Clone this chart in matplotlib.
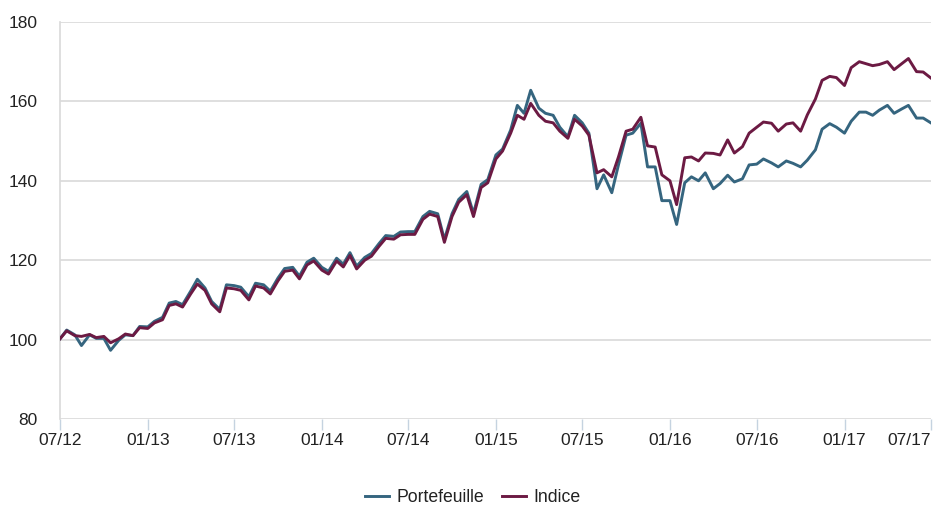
import numpy as np
import pandas as pd
import matplotlib
matplotlib.use('Agg')
import matplotlib.pyplot as plt
import matplotlib.dates as mdates

matplotlib.rcParams['font.family'] = 'Liberation Sans'

# semi-monthly points, 07/12 -> 07/17
dates = pd.date_range('2012-07-01', '2017-07-01', freq='SMS')

indice = [100.2, 102.2, 101.0, 100.8, 101.3, 100.5, 100.8, 99.2, 100.2, 101.4,
          101.0, 103.0, 102.8, 104.2, 105.0, 108.6, 109.0, 108.2, 111.5, 114.0,
          112.4, 109.0, 107.0, 113.0, 112.8, 112.4, 110.0, 113.5, 113.0, 111.5,
          114.8, 117.2, 117.5, 115.3, 118.8, 119.8, 117.5, 116.5, 119.8, 118.3,
          121.2, 117.8, 120.0, 121.0, 123.5, 125.5, 125.3, 126.4, 126.5, 126.5,
          130.3, 131.6, 131.0, 124.5, 131.0, 134.6, 136.5, 131.0, 138.3, 139.5,
          145.5, 147.5, 152.0, 156.5, 155.5, 159.5, 156.5, 155.0, 154.6, 152.5,
          150.7, 155.5, 153.8, 151.5, 142.0, 142.8, 141.0, 146.0, 152.5, 153.0,
          156.0, 148.8, 148.5, 141.5, 140.0, 134.0, 145.8, 146.0, 145.0, 147.0,
          146.9, 146.5, 150.3, 147.0, 148.6, 152.0, 153.5, 154.8, 154.5, 152.5,
          154.3, 154.6, 152.5, 156.6, 160.6, 165.3, 166.3, 166.0, 164.0, 168.5,
          170.0, 169.5, 169.0, 169.3, 170.0, 168.0, 169.5, 170.8, 167.5, 167.4,
          165.9]

portefeuille = [100.2, 102.4, 101.2, 98.5, 101.2, 100.3, 100.3, 97.3, 99.8, 101.2,
                101.0, 103.3, 103.2, 104.6, 105.6, 109.2, 109.6, 108.8, 112.2, 115.2,
                113.0, 109.6, 107.6, 113.8, 113.6, 113.2, 110.8, 114.2, 113.8, 112.2,
                115.5, 117.9, 118.2, 116.0, 119.5, 120.5, 118.2, 117.2, 120.5, 119.0,
                121.9, 118.5, 120.7, 121.7, 124.2, 126.2, 126.0, 127.1, 127.2, 127.2,
                131.0, 132.3, 131.7, 125.2, 131.7, 135.3, 137.3, 131.8, 139.1, 140.3,
                146.5, 148.0, 152.8, 159.0, 157.0, 162.8, 158.3, 157.0, 156.5, 153.5,
                151.1, 156.5, 154.6, 152.0, 138.0, 141.5, 137.0, 144.0, 151.5, 152.0,
                154.5, 143.5, 143.5, 135.0, 135.0, 129.0, 139.5, 141.0, 140.0, 142.0,
                138.0, 139.3, 141.4, 139.7, 140.5, 144.0, 144.2, 145.5, 144.5, 143.5,
                145.0, 144.4, 143.5, 145.2, 147.8, 153.0, 154.4, 153.5, 152.0, 155.0,
                157.3, 157.3, 156.5, 157.8, 159.0, 157.0, 158.1, 159.0, 155.8, 155.8,
                154.6]

c_port = '#35657f'
c_ind = '#6c1a43'
grid_color = '#d9d9d9'
text_color = '#222222'

fig = plt.figure(figsize=(9.45, 5.07), dpi=100)
ax = fig.add_axes([0.0635, 0.1736, 0.9215, 0.783])

ax.plot(dates, portefeuille, color=c_port, lw=2.1, label='Portefeuille', zorder=3)
ax.plot(dates, indice, color=c_ind, lw=2.1, label='Indice', zorder=4)

ax.set_ylim(80, 180)
ax.set_yticks(np.arange(80, 181, 20))
ax.set_xlim(pd.Timestamp('2012-07-01'), pd.Timestamp('2017-07-01'))
ax.xaxis.set_major_locator(mdates.MonthLocator(bymonth=[1, 7]))
ax.xaxis.set_major_formatter(mdates.DateFormatter('%m/%y'))

ax.grid(axis='y', color=grid_color, lw=1.2, zorder=0)
for s in ['top', 'right', 'bottom']:
  ax.spines[s].set_visible(False)
ax.spines['left'].set_color(grid_color)
ax.spines['left'].set_linewidth(1.2)

ax.tick_params(axis='y', length=0, pad=16, labelsize=12.5, labelcolor=text_color)
ax.tick_params(axis='x', length=8, width=1, color='#c5d3e0', pad=2, labelsize=12.5,
               labelcolor=text_color, direction='out')

fig.canvas.draw()
xlabels = ax.get_xticklabels()
xlabels[-1].set_horizontalalignment('right')

leg = fig.legend(*ax.get_legend_handles_labels(), loc='center', bbox_to_anchor=(0.5, 0.018),
                 ncol=2, frameon=False, fontsize=12.7, handlelength=1.4,
                 columnspacing=1.0, handletextpad=0.4, borderaxespad=0)
for t in leg.get_texts():
  t.set_color(text_color)

fig.savefig('out.png', dpi=100, facecolor='white')
